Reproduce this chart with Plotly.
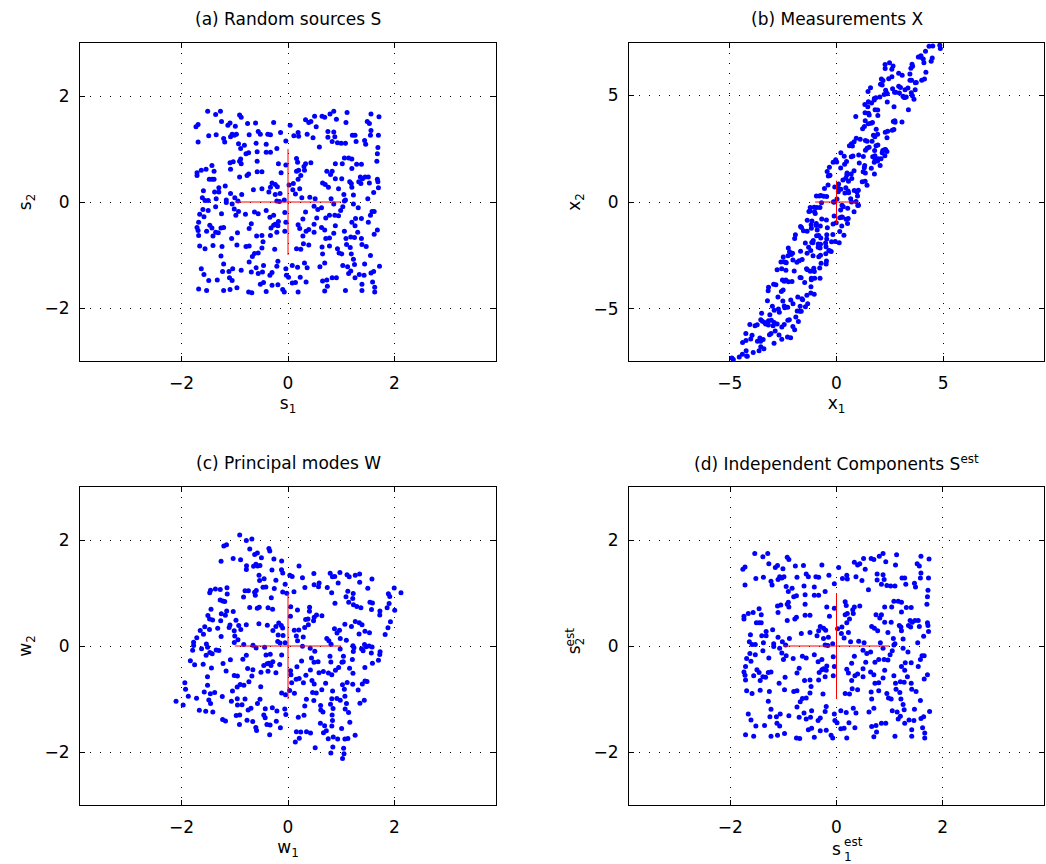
import numpy as np
import plotly.graph_objects as go

# ---- source samples S ----
S1 = [
    -1.51,-1.36,-1.27,-1.25,-1.69,-1.73,-0.91,-0.88,-0.99,-1.09,-1.13,-0.76,-0.61,-0.27,0.04,0.33,0.39,0.43,0.50,0.64,0.69,0.79,0.86,0.91,1.11,1.09,1.56,1.49,1.53,1.71,
    -1.69,-1.49,-1.35,-1.21,-1.19,-1.05,-1.01,-0.97,-1.08,-0.93,-0.73,-0.56,-0.52,-0.38,-0.33,-0.14,-0.04,0.19,0.11,0.20,0.36,0.47,0.53,0.59,0.75,0.75,0.86,0.88,0.83,0.93,1.00,1.08,1.21,1.26,1.28,1.44,1.46,1.56,1.55,1.70,1.69,1.68,
    -0.89,-0.82,-0.60,-0.41,-0.21,-0.33,-0.41,-0.58,-0.79,-0.74,-1.09,-1.03,-0.91,-0.89,-0.88,-0.58,-0.18,-0.04,0.16,0.18,0.33,0.43,0.30,0.16,0.20,0.24,0.31,-0.13,-0.49,-0.58,-0.74,-0.77,-0.91,-1.08,-1.39,-1.43,-1.54,-1.63,-1.71,-1.71,-1.48,-1.43,-1.39,0.73,0.83,0.80,0.89,0.89,1.01,1.02,1.06,1.14,1.20,1.20,1.29,1.38,1.36,1.40,1.45,1.51,1.53,1.68,1.69,1.70,1.67,1.19,1.20,1.33,1.37,
    -1.18,-1.30,-1.38,-1.30,-1.59,-1.50,-1.61,-1.56,-1.35,-1.08,-1.16,-1.00,-0.94,-0.87,-0.65,-0.49,-0.33,-0.36,-0.30,-0.24,-0.20,-0.24,-0.15,-0.07,0.02,0.10,0.19,0.09,0.14,0.22,0.26,0.41,0.51,0.65,0.70,0.76,0.81,0.86,0.95,1.05,1.08,1.16,1.23,1.23,1.32,1.50,1.61,1.62,
    -1.16,-1.05,-1.01,-0.98,-0.93,-0.80,-0.63,-0.56,-0.41,-0.34,-0.27,-0.21,-0.16,-0.06,-0.04,-0.18,-0.24,0.28,0.33,0.49,0.56,0.63,0.71,0.78,0.88,0.95,0.99,1.03,1.06,1.20,1.27,1.38,1.55,1.58,-1.36,-1.25,-1.50,-1.60,-1.66,-1.68,-1.58,
    -1.71,-1.69,-1.68,-1.53,-1.47,-1.43,-1.41,-1.36,-1.31,-1.26,-1.21,-1.06,-0.95,-0.73,-0.69,-0.73,-0.59,-0.49,-0.47,-0.33,-0.32,-0.27,-0.21,-0.19,-0.06,0.19,0.22,0.28,0.34,0.39,0.49,0.49,0.54,0.63,0.69,0.71,0.78,0.78,0.86,0.89,1.06,1.09,1.10,1.18,1.25,1.26,1.31,1.38,1.39,1.47,1.51,1.62,1.68,-1.41,-1.24,-1.26,-1.66,-1.56,-0.96,-0.79,-0.67,-0.63,-0.56,-0.49,-0.25,0.16,0.24,0.29,0.39,
    0.64,0.65,0.93,0.96,1.01,1.17,1.19,1.23,1.55,0.69,1.03,1.12,1.18,1.25,1.44,1.72,1.61,1.56,1.43,1.34,1.26,1.14,0.91,0.83,0.73,0.65,0.60,0.31,0.36,0.18,0.08,-0.04,-0.19,-0.21,-0.46,-0.60,-0.56,-0.48,-0.34,-0.30,-0.73,-0.69,-0.88,-1.04,-1.11,-1.21,-1.23,-1.63,-1.58,-1.49,-1.33,-1.10,-1.05,
    -1.68,-1.53,-1.21,-1.09,-0.96,-0.74,-0.68,-0.52,-0.46,-0.41,-0.30,-0.19,-0.10,-0.07,-0.03,0.01,0.08,0.14,0.19,0.23,0.34,0.69,0.74,1.08,1.39,1.39,1.59,1.63,1.63,
]
S2 = [
    1.71,1.65,1.71,1.52,1.46,1.42,1.64,1.60,1.43,1.49,1.45,1.48,1.49,1.50,1.45,1.55,1.50,1.52,1.62,1.62,1.60,1.66,1.71,1.56,1.69,1.50,1.66,1.52,1.48,1.61,
    1.13,1.25,1.27,1.20,1.13,1.28,1.26,1.28,1.23,1.10,1.27,1.33,1.28,1.28,1.27,1.31,1.15,1.31,1.25,1.24,1.28,1.21,1.42,1.04,1.33,1.22,1.32,1.23,1.14,1.12,1.11,1.11,1.26,1.26,1.14,1.16,1.09,1.35,1.26,1.26,1.03,0.91,
    1.01,1.07,1.11,1.09,1.01,0.94,0.94,0.95,0.91,0.93,0.74,0.76,0.77,0.81,0.72,0.77,0.72,0.70,0.82,0.75,0.72,0.74,0.67,0.58,0.60,0.50,0.60,0.55,0.57,0.57,0.53,0.50,0.47,0.62,0.58,0.69,0.62,0.60,0.55,0.50,0.43,0.43,0.43,0.58,0.58,0.52,0.72,0.44,0.44,0.72,0.83,0.83,0.81,0.63,0.71,0.71,0.47,0.44,0.47,0.47,0.36,0.43,0.38,0.27,0.77,0.35,0.28,0.38,0.35,
    0.30,0.27,0.19,0.19,0.21,0.03,0.08,0.03,0.06,0.16,0.04,0.08,0.02,0.14,0.23,0.25,0.28,0.19,0.36,0.33,0.29,0.14,0.16,0.04,0.32,0.35,0.43,0.23,0.15,0.25,0.08,0.09,0.06,0.36,0.33,0.28,0.06,-0.04,0.25,0.14,0.04,0.38,0.13,-0.04,-0.11,0.06,0.18,-0.18,
    -0.01,-0.04,-0.13,-0.25,-0.18,-0.23,-0.19,-0.22,-0.16,-0.29,-0.25,0.02,0.01,-0.20,-0.38,-0.37,-0.42,-0.32,-0.19,-0.08,-0.14,-0.11,-0.30,-0.25,-0.25,-0.26,-0.16,-0.09,0.02,-0.38,-0.31,-0.31,-0.25,-0.18,-0.09,-0.22,-0.16,-0.14,-0.23,-0.38,-0.28,
    -0.48,-0.54,-0.63,-0.55,-0.44,-0.49,-0.64,-0.57,-0.58,-0.49,-0.48,-0.69,-0.58,-0.50,-0.41,-0.83,-0.64,-0.63,-0.75,-0.63,-0.49,-0.44,-0.57,-0.45,-0.55,-0.43,-0.50,-0.64,-0.55,-0.52,-0.57,-0.42,-0.30,-0.48,-0.53,-0.69,-0.68,-0.83,-0.59,-0.45,-0.55,-0.69,-0.80,-0.66,-0.67,-0.45,-0.57,-0.69,-0.80,-0.84,-0.38,-0.61,-0.53,-0.82,-0.84,-1.02,-0.83,-0.88,-0.81,-0.84,-1.03,-0.97,-0.96,-0.87,-0.89,-0.88,-0.89,-0.79,-0.81,
    -0.85,-0.98,-0.88,-0.96,-0.98,-0.86,-0.98,-1.08,-1.01,-1.15,-1.20,-1.22,-1.30,-1.18,-1.17,-1.21,-1.31,-1.34,-1.38,-1.37,-1.43,-1.35,-1.43,-1.43,-1.47,-1.49,-1.22,-1.15,-1.24,-1.23,-1.20,-1.26,-1.12,-1.21,-1.20,-1.24,-1.35,-1.32,-1.38,-1.33,-1.13,-1.32,-1.29,-1.26,-1.31,-1.17,-1.31,-1.26,-1.37,-1.48,-1.47,-1.43,-1.48,
    -1.64,-1.67,-1.67,-1.65,-1.62,-1.70,-1.71,-1.55,-1.52,-1.69,-1.57,-1.56,-1.65,-1.70,-1.38,-1.42,-1.53,-1.52,-1.70,-1.42,-1.51,-1.68,-1.59,-1.67,-1.55,-1.67,-1.51,-1.61,-1.70,
]

MIX = [[0.87, 2.10], [0.36, 4.08]]   # mixing matrix: X = MIX @ S
PCA_ROT_DEG = -18.0                  # principal modes: rotated sources
PCA_SCALE = 1.0
EST_SCALE = 1.02                     # recovered components
CROSS = [-1.0, 1.0]                  # red unit cross

TITLES = ["(a) Random sources S", "(b) Measurements X",
          "(c) Principal modes W", "(d) Independent Components S<sup>est</sup>"]
XLABELS = ["s<sub>1</sub>", "x<sub>1</sub>", "w<sub>1</sub>", "s"]
YLABELS = ["s<sub>2</sub>", "x<sub>2</sub>", "w<sub>2</sub>", "s<sub>2</sub>"]
EST_MARK = "est"
D_XSUB = "1"
TICKS_SMALL = [-2, 0, 2]
TICKS_BIG = [-5, 0, 5]

n = min(len(S1), len(S2))
S = np.array([S1[:n], S2[:n]])
X = np.array(MIX) @ S
th = np.deg2rad(PCA_ROT_DEG)
R = np.array([[np.cos(th), -np.sin(th)], [np.sin(th), np.cos(th)]])
W = PCA_SCALE * (R @ S)
SE = EST_SCALE * S
panels = [S, X, W, SE]

FONT = "DejaVu Sans, Liberation Sans, Arial, sans-serif"
FS = 17
W_PX, H_PX = 1046, 864
xdom = [[80 / W_PX, 496 / W_PX], [629 / W_PX, 1044 / W_PX]]
ydom = [[1 - 361 / H_PX, 1 - 43 / H_PX], [1 - 805 / H_PX, 1 - 487 / H_PX]]

fig = go.Figure()
layout = dict(
    width=W_PX, height=H_PX, margin=dict(l=0, r=0, t=0, b=0),
    paper_bgcolor="white", plot_bgcolor="white", showlegend=False,
    template="none", font=dict(family=FONT, size=FS, color="black"),
)
annotations = []
for i, P in enumerate(panels):
    k = i + 1
    xa = "x" if k == 1 else f"x{k}"
    ya = "y" if k == 1 else f"y{k}"
    fig.add_trace(go.Scatter(x=P[0], y=P[1], mode="markers", xaxis=xa, yaxis=ya,
                             marker=dict(size=5, color="#0000ff", line=dict(width=0)),
                             hoverinfo="skip"))
    fig.add_trace(go.Scatter(x=[CROSS[0], CROSS[1], None, 0, 0],
                             y=[0, 0, None, CROSS[0], CROSS[1]],
                             mode="lines", xaxis=xa, yaxis=ya,
                             line=dict(color="#ff0000", width=1), hoverinfo="skip"))
    col, row = i % 2, i // 2
    big = (i == 1)
    xr = [-9.73, 9.73] if big else [-3.91, 3.91]
    yr = [-7.44, 7.44] if big else [-3.0, 3.0]
    tv = TICKS_BIG if big else TICKS_SMALL
    common = dict(showline=True, linecolor="black", linewidth=1, mirror="ticks",
                  ticks="inside", ticklen=5, tickwidth=1, tickcolor="black",
                  showgrid=True, gridcolor="black", gridwidth=1, griddash="1px,9px",
                  zeroline=False, tickvals=tv, automargin=False,
                  tickfont=dict(family=FONT, size=FS, color="black"))
    xstand = 6 if i == 3 else 3
    layout["xaxis" if k == 1 else f"xaxis{k}"] = dict(
        common, domain=xdom[col], range=xr, anchor=ya, ticklabelstandoff=7,
        title=dict(text=XLABELS[i], standoff=xstand, font=dict(family=FONT, size=FS)))
    layout["yaxis" if k == 1 else f"yaxis{k}"] = dict(
        common, domain=ydom[row], range=yr, anchor=xa, ticklabelstandoff=6,
        title=dict(text=YLABELS[i], standoff=8, font=dict(family=FONT, size=FS)))
    annotations.append(dict(
        text=TITLES[i], xref="paper", yref="paper",
        x=(xdom[col][0] + xdom[col][1]) / 2,
        y=ydom[row][1] + 24 / H_PX, xanchor="center", yanchor="middle",
        showarrow=False, font=dict(family=FONT, size=FS, color="black")))

# stacked "est" superscript / subscript on panel (d) axis labels
annotations.append(dict(text=EST_MARK, xref="paper", yref="paper",
                        x=842 / W_PX, y=1 - 842 / H_PX, xanchor="left", yanchor="middle",
                        showarrow=False, font=dict(family=FONT, size=12, color="black")))
annotations.append(dict(text=D_XSUB, xref="paper", yref="paper",
                        x=842 / W_PX, y=1 - 857 / H_PX, xanchor="left", yanchor="middle",
                        showarrow=False, font=dict(family=FONT, size=12, color="black")))
annotations.append(dict(text=EST_MARK, xref="paper", yref="paper", textangle=-90,
                        x=569 / W_PX, y=1 - 649 / H_PX, xanchor="center", yanchor="bottom",
                        showarrow=False, font=dict(family=FONT, size=12, color="black")))

layout["annotations"] = annotations
fig.update_layout(**layout)
fig.write_html("out.html")
